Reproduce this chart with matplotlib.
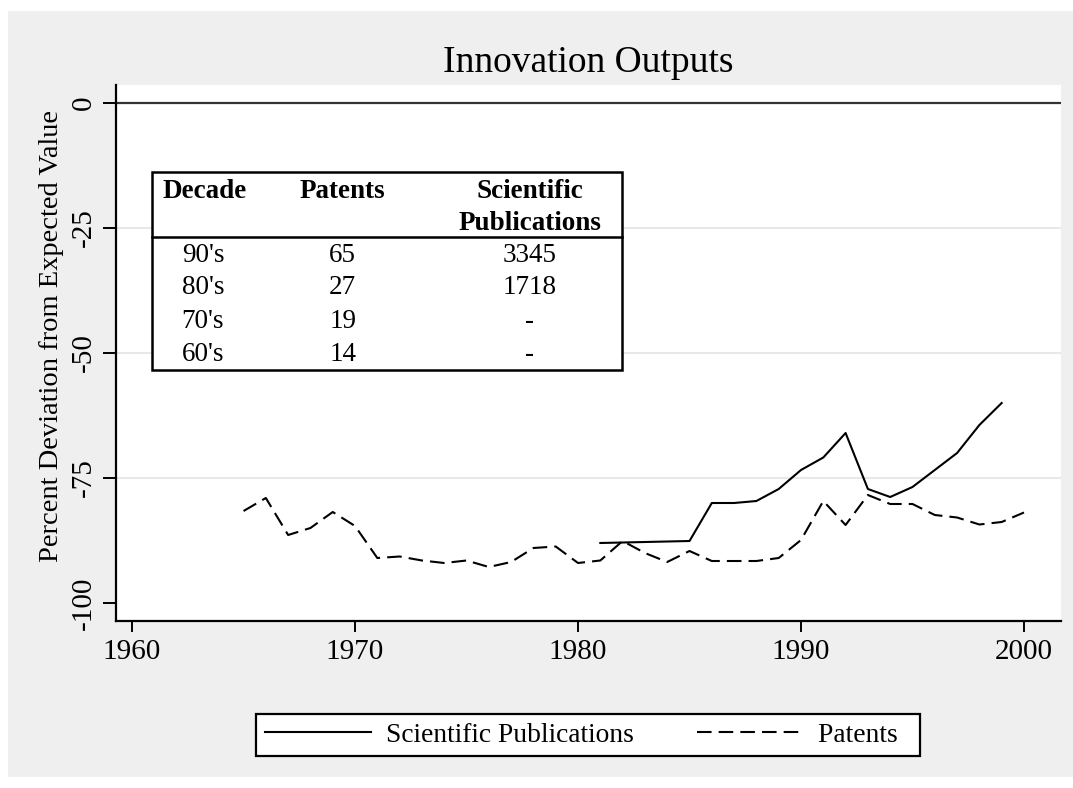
import matplotlib
matplotlib.use('Agg')
import matplotlib.pyplot as plt
from matplotlib.patches import Rectangle
from matplotlib.lines import Line2D


# --- Datos ---
anios_patentes = list(range(1965, 2001))
patentes = [-81.6, -79.0, -86.4, -85.0, -81.8, -84.6, -91.0, -90.7, -91.5, -92.0,
            -91.5, -92.8, -91.8, -89.0, -88.7, -92.0, -91.5, -87.6, -90.0, -91.8,
            -89.6, -91.6, -91.6, -91.6, -91.0, -87.4, -79.6, -84.4, -78.4, -80.2,
            -80.2, -82.4, -82.9, -84.3, -83.8, -81.9]

anios_pubs = [1981, 1985, 1986, 1987, 1988, 1989, 1990, 1991, 1992, 1993,
              1994, 1995, 1996, 1997, 1998, 1999]
publicaciones = [-88.0, -87.6, -80.0, -80.0, -79.6, -77.2, -73.4, -70.9, -66.0, -77.2,
                 -78.8, -76.8, -73.4, -70.0, -64.4, -60.0]

# tabla del recuadro
decadas = ["90's", "80's", "70's", "60's"]
cant_patentes = ["65", "27", "19", "14"]
cant_pubs = ["3345", "1718", "-", "-"]

x_ticks = [1960, 1970, 1980, 1990, 2000]
y_ticks = [0, -25, -50, -75, -100]

plt.rcParams['font.family'] = ['Liberation Serif', 'DejaVu Serif']
plt.rcParams['axes.unicode_minus'] = False   # guion comun como en el original

W, H = 1073, 788
fig = plt.figure(figsize=(W / 100, H / 100), dpi=100, facecolor='white')

# fondo gris estilo Stata
fig.patches.append(Rectangle((8 / W, 11 / H), 1 - 8 / W, 766 / H,
                             transform=fig.transFigure, facecolor='#efefef',
                             edgecolor='none', zorder=-10))

ax = fig.add_axes([116 / W, 167 / H, 945 / W, 536 / H])
ax.set_facecolor('white')
ax.set_xlim(1959.28, 2001.66)
ax.set_ylim(-103.6, 3.6)

for lado in ['top', 'right']:
    ax.spines[lado].set_visible(False)
for lado in ['left', 'bottom']:
    ax.spines[lado].set_linewidth(1.6)

ax.set_xticks(x_ticks)
ax.set_yticks(y_ticks)
ax.tick_params(axis='x', length=8, width=1.4, pad=5, labelsize=21)
ax.tick_params(axis='y', length=9.5, width=1.4, pad=4, labelsize=21, labelrotation=90)
for t in ax.get_yticklabels():
    t.set_va('center')

# lineas de grilla y linea en cero
for g in [-25, -50, -75]:
    ax.axhline(g, color='#e8e8e8', lw=1.5, zorder=0)
ax.axhline(0, color='#333333', lw=1.6, zorder=1)

l_pub, = ax.plot(anios_pubs, publicaciones, color='black', lw=1.5,
                 label='Scientific Publications')
l_pat, = ax.plot(anios_patentes, patentes, color='black', lw=1.5,
                 dashes=(7, 3.4), label='Patents  ')   # espacios: margen derecho como Stata

# --- Recuadro con la tabla ---
x0, x1 = 36 / 945, 506 / 945
y_top, y_bot = 449 / 536, 251 / 536
ax.add_patch(Rectangle((x0, y_bot), x1 - x0, y_top - y_bot, transform=ax.transAxes,
                       facecolor='white', edgecolor='black', lw=1.8, zorder=3))
ax.add_line(Line2D([x0, x1], [384 / 536, 384 / 536], transform=ax.transAxes,
                   color='black', lw=1.8, zorder=4))

fs_tab = 19.5
ax.text(0.0487, 0.8004, 'Decade', transform=ax.transAxes, ha='left', va='center',
        fontsize=fs_tab, fontweight='bold', zorder=5)
ax.text(0.240, 0.8004, 'Patents', transform=ax.transAxes, ha='center', va='center',
        fontsize=fs_tab, fontweight='bold', zorder=5)
ax.text(0.438, 0.8004, 'Scientific', transform=ax.transAxes, ha='center', va='center',
        fontsize=fs_tab, fontweight='bold', zorder=5)
ax.text(0.438, 0.7425, 'Publications', transform=ax.transAxes, ha='center', va='center',
        fontsize=fs_tab, fontweight='bold', zorder=5)

filas_y = [0.6828, 0.6213, 0.5597, 0.4981]
for fy, d, p, s in zip(filas_y, decadas, cant_patentes, cant_pubs):
    ax.text(0.092, fy, d, transform=ax.transAxes, ha='center', va='center',
            fontsize=fs_tab, zorder=5)
    ax.text(0.240, fy, p, transform=ax.transAxes, ha='center', va='center',
            fontsize=fs_tab, zorder=5)
    ax.text(0.438, fy, s, transform=ax.transAxes, ha='center', va='center',
            fontsize=fs_tab, zorder=5)

# --- Titulo y etiqueta del eje ---
fig.text(588 / W, (H - 72) / H, 'Innovation Outputs', ha='center', va='baseline',
         fontsize=27)
fig.text(52 / W, (H - 336) / H, 'Percent Deviation from Expected Value',
         rotation=90, ha='center', va='center', fontsize=20.5)

# --- Leyenda ---
leg = fig.legend(handles=[l_pub, l_pat], ncol=2, loc='center',
                 bbox_to_anchor=(588 / W, (H - 735) / H), fontsize=19.8,
                 frameon=True, fancybox=False, framealpha=1, edgecolor='black',
                 handlelength=3.85, columnspacing=2.3, borderpad=0.3,
                 handletextpad=0.55)
leg.get_frame().set_linewidth(1.6)

fig.savefig('out.png', dpi=100, facecolor='white')
